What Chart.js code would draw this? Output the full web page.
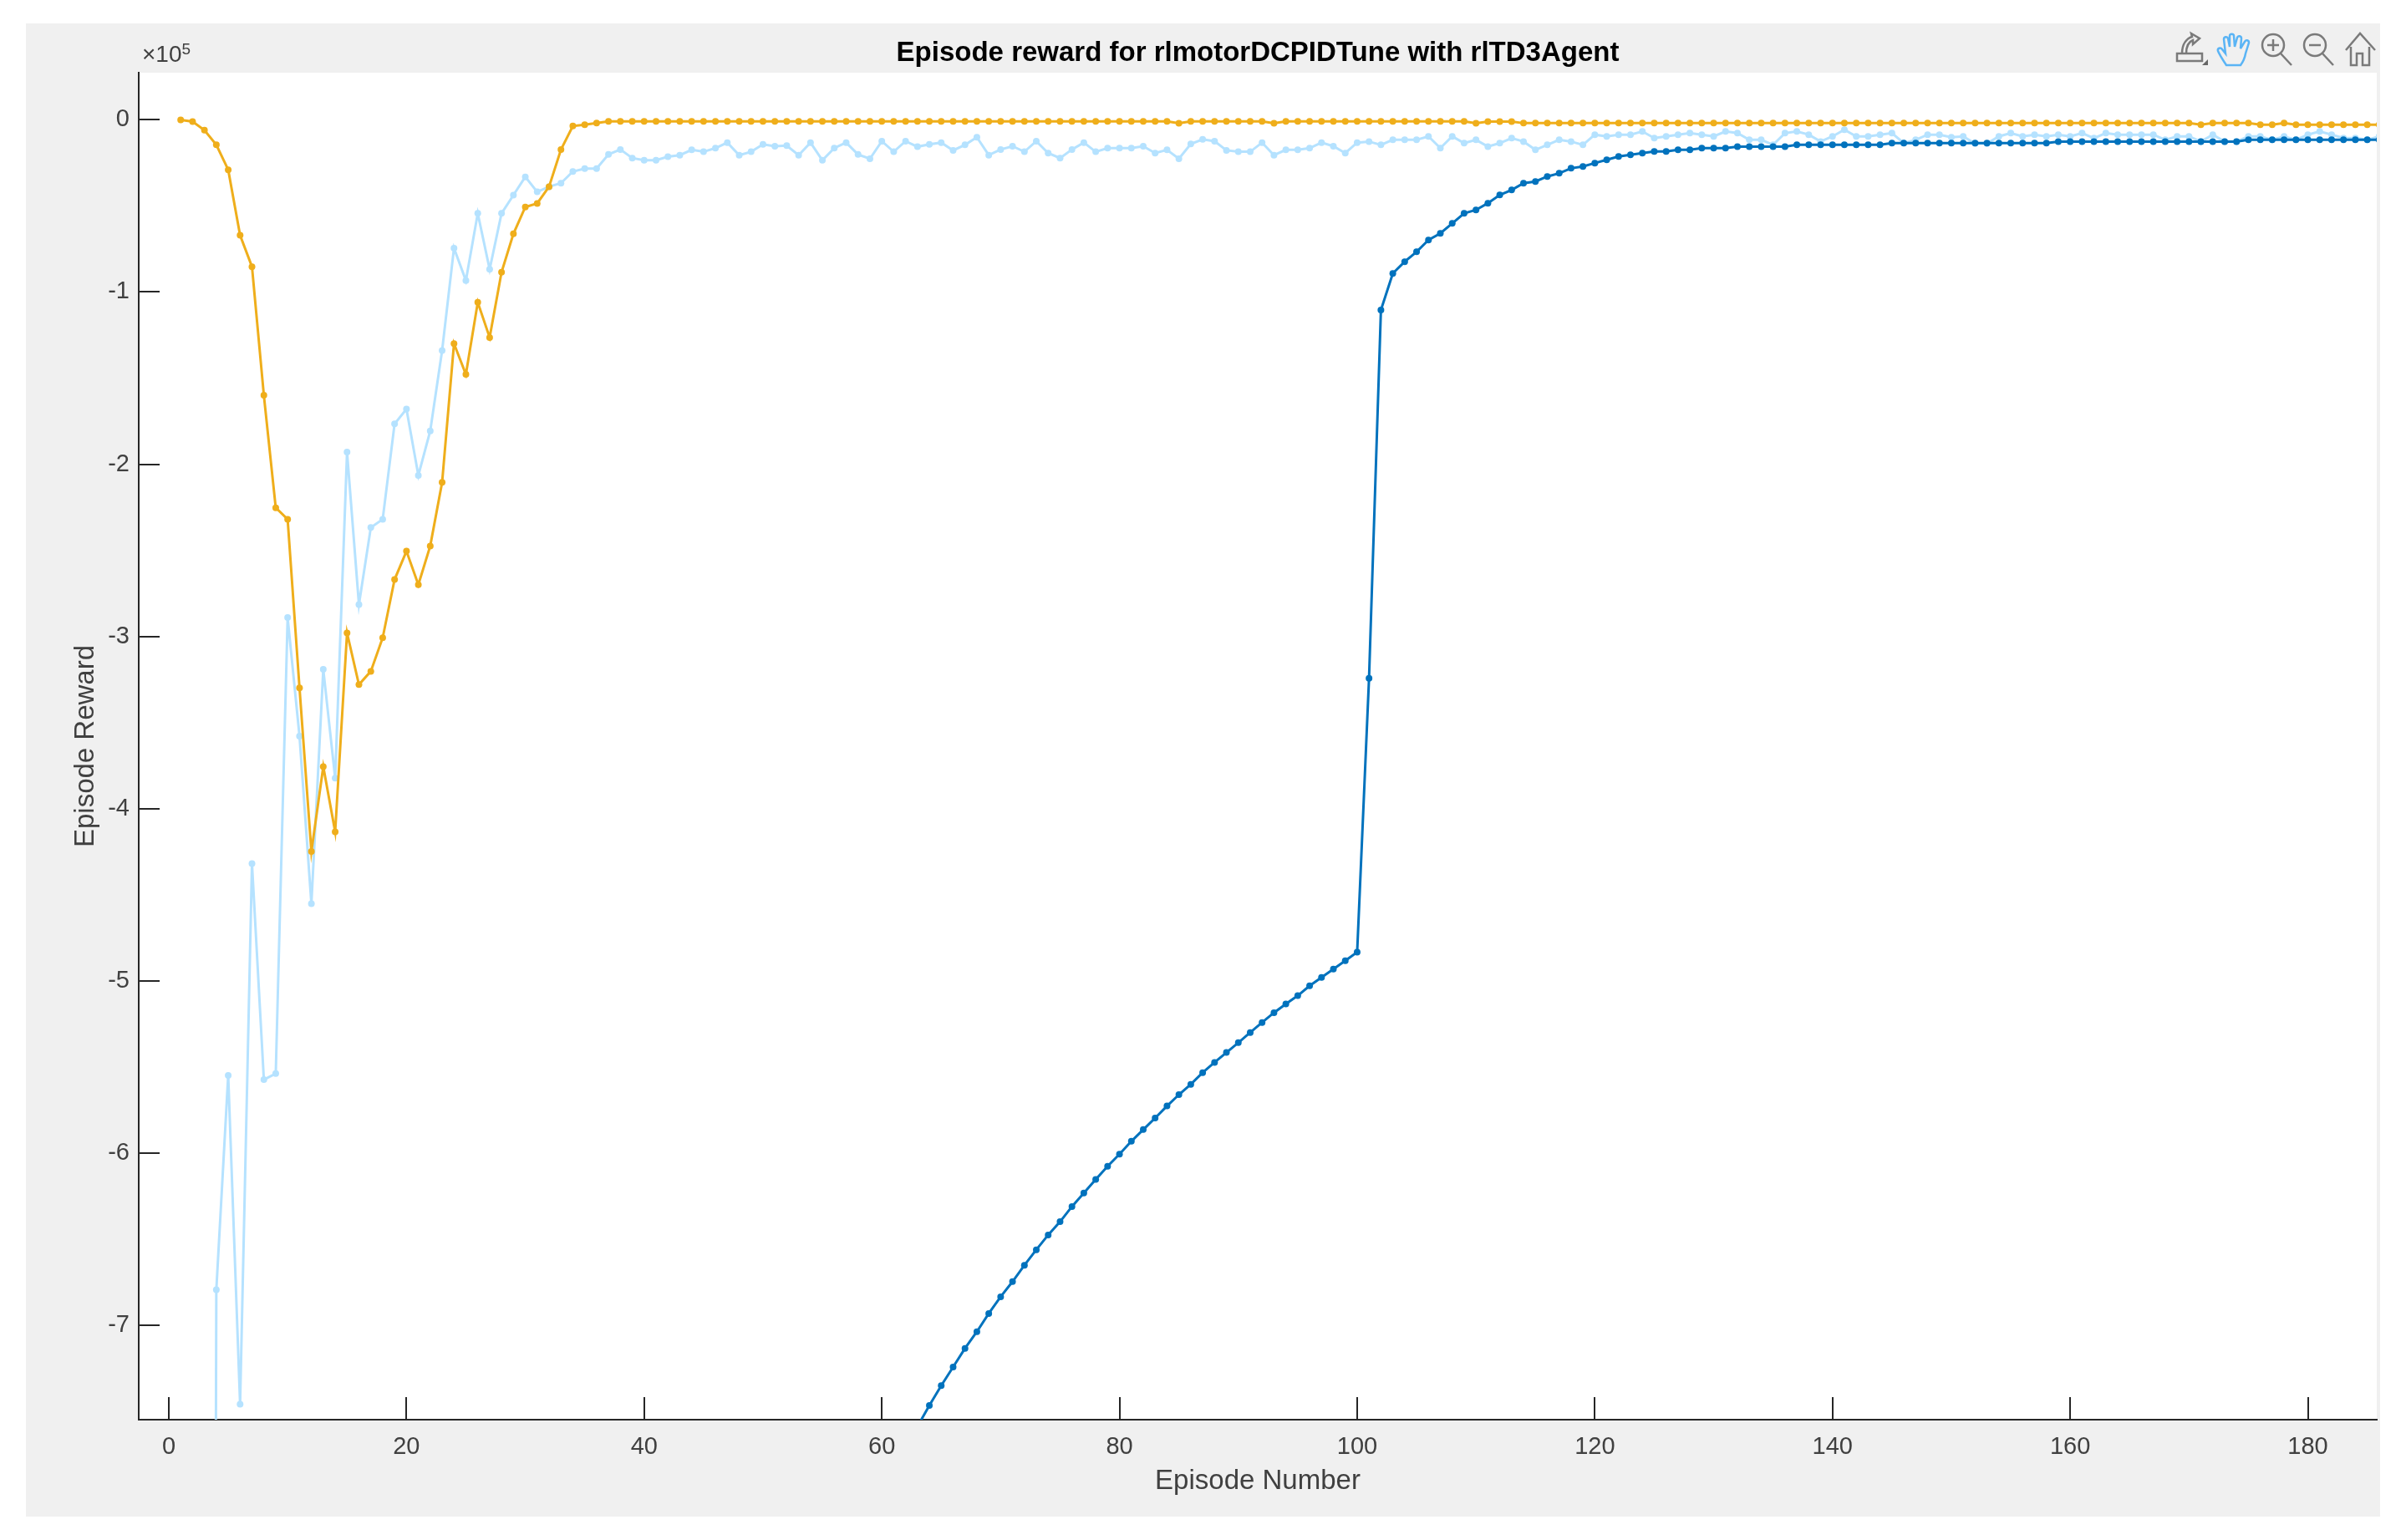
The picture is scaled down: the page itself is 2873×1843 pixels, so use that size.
<!DOCTYPE html>
<html>
<head>
<meta charset="utf-8">
<title>Episode reward</title>
<script src="https://cdn.jsdelivr.net/npm/chart.js@4/dist/chart.umd.min.js"></script>
<style>
  html, body { margin: 0; padding: 0; background: #fff; }
  body { position: relative; width: 2873px; height: 1843px; overflow: hidden; }
  #chart { position: absolute; left: 31px; top: 28px; background: #f0f0f0; }
  #exponent {
    position: absolute; left: 170px; top: 49px; color: #404040;
    font: 28px "Liberation Sans", Arial, sans-serif; line-height: 32px;
  }
  #exponent sup { font-size: 19px; line-height: 0; vertical-align: 9px; }
  #toolbar { position: absolute; left: 2595px; top: 34px; }
</style>
</head>
<body>
<canvas id="chart" width="2817" height="1787"></canvas>
<div id="exponent">×10<sup>5</sup></div>
<svg id="toolbar" width="253" height="50" viewBox="0 0 253 50" fill="none" stroke="#7a7a7a" stroke-width="2.5">
  <path d="M10 30h30v9H10z M16 30c0-12 6-18 12-20l-1-4 10 6-8 7v-5c-5 2-8 8-8 16"/>
  <path d="M40 44l7-7v7z" fill="#666" stroke="none"/>
  <path d="M69 44C65 38 61 32 59 27c-1-3 3-5 5-2l4 5L66 13c0-3 4-4 5-1l2 10L73 9c0-3 5-3 5 0l1 13L82 11c1-3 5-2 5 1l-1 12L91 16c1-3 5-2 5 1L92 30c-1 6-3 10-6 14z" stroke="#5ab4f5"/>
  <circle cx="125" cy="20" r="13"/><path d="M134 30l13 14 M125 13v14 M118 20h14"/>
  <circle cx="175" cy="20" r="13"/><path d="M184 30l13 14 M168 20h14"/>
  <path d="M212 26l17-20 18 20 M218 22v22h7V30h7v14h8V22"/>
</svg>

<script>
"use strict";

// rewards are in units of 1e5
var xTicks = [0, 20, 40, 60, 80, 100, 120, 140, 160, 180];
var yTicks = [0, -1, -2, -3, -4, -5, -6, -7];
var titleText = "Episode reward for rlmotorDCPIDTune with rlTD3Agent";
var xAxisLabel = "Episode Number";
var yAxisLabel = "Episode Reward";

// episode reward, light blue. Starts at episode 3, which is far below the plot
var rewardStart = 3;
var rewardValues = [
  -30,
  -6.795, -5.55, -7.46, -4.32, -5.575, -5.54, -2.891,
  -3.58, -4.553, -3.192, -3.824, -1.93, -2.815, -2.368, -2.32, -1.766, -1.68,
  -2.065, -1.807, -1.34, -0.745, -0.933, -0.543, -0.868, -0.543, -0.437, -0.331,
  -0.418, -0.388, -0.368, -0.3, -0.283, -0.283, -0.201, -0.172, -0.222, -0.234,
  -0.234, -0.214, -0.205, -0.174, -0.185, -0.164, -0.132, -0.205, -0.185, -0.142,
  -0.153, -0.15, -0.205, -0.132, -0.235, -0.164, -0.132, -0.201, -0.226, -0.124,
  -0.185, -0.124, -0.156, -0.142, -0.132, -0.177, -0.145, -0.101, -0.205, -0.172,
  -0.153, -0.185, -0.124, -0.193, -0.222, -0.172, -0.132, -0.185, -0.164, -0.164,
  -0.164, -0.153, -0.193, -0.174, -0.226, -0.14, -0.113, -0.124, -0.177, -0.185,
  -0.185, -0.132, -0.205, -0.174, -0.174, -0.164, -0.132, -0.153, -0.193, -0.132,
  -0.126, -0.145, -0.116, -0.116, -0.116, -0.096, -0.164, -0.096, -0.135, -0.116,
  -0.155, -0.135, -0.106, -0.126, -0.174, -0.145, -0.116, -0.126, -0.145, -0.086,
  -0.096, -0.086, -0.086, -0.067, -0.106, -0.096, -0.086, -0.077, -0.086, -0.096,
  -0.067, -0.077, -0.116, -0.116, -0.145, -0.077, -0.067, -0.086, -0.126, -0.096,
  -0.057, -0.096, -0.096, -0.086, -0.077, -0.135, -0.116, -0.086, -0.086, -0.101,
  -0.096, -0.137, -0.137, -0.096, -0.077, -0.096, -0.086, -0.096, -0.086, -0.096,
  -0.077, -0.106, -0.077, -0.086, -0.086, -0.086, -0.086, -0.116, -0.096, -0.096,
  -0.126, -0.086, -0.126, -0.126, -0.096, -0.096, -0.116, -0.096, -0.116, -0.086,
  -0.067, -0.086, -0.106, -0.106, -0.116, -0.096
];

// average reward, dark blue. Earlier episodes are below the plot
var averageStart = 63;
var averageValues = [
  -7.59, -7.467, -7.352, -7.244, -7.136, -7.039, -6.933, -6.836,
  -6.748, -6.653, -6.563, -6.477, -6.4, -6.312, -6.234, -6.155, -6.078, -6.008,
  -5.933, -5.865, -5.798, -5.728, -5.662, -5.602, -5.534, -5.475, -5.417, -5.36,
  -5.301, -5.243, -5.186, -5.135, -5.087, -5.03, -4.981, -4.933, -4.884, -4.834,
  -3.244, -1.104, -0.892, -0.824, -0.766, -0.698, -0.659, -0.601, -0.543, -0.523,
  -0.484, -0.436, -0.407, -0.368, -0.358, -0.329, -0.31, -0.281, -0.271, -0.251,
  -0.232, -0.213, -0.203, -0.193, -0.183, -0.183, -0.174, -0.174, -0.164, -0.164,
  -0.164, -0.155, -0.155, -0.155, -0.155, -0.155, -0.145, -0.145, -0.145, -0.145,
  -0.145, -0.145, -0.145, -0.145, -0.135, -0.135, -0.135, -0.135, -0.135, -0.135,
  -0.135, -0.135, -0.135, -0.135, -0.135, -0.135, -0.135, -0.135, -0.126, -0.126,
  -0.126, -0.126, -0.126, -0.126, -0.126, -0.126, -0.126, -0.126, -0.126, -0.126,
  -0.126, -0.126, -0.126, -0.126, -0.116, -0.116, -0.116, -0.116, -0.116, -0.116,
  -0.116, -0.116, -0.116, -0.116, -0.116, -0.116
];

// episode Q0, orange
var q0Start = 1;
var q0Values = [
  0, -0.01, -0.06, -0.145, -0.29, -0.67, -0.853, -1.6, -2.253, -2.32,
  -3.3, -4.25, -3.757, -4.136, -2.98, -3.28, -3.203, -3.008, -2.67, -2.505,
  -2.7, -2.475, -2.106, -1.3, -1.478, -1.06, -1.264, -0.885, -0.662, -0.506,
  -0.485, -0.388, -0.173, -0.036, -0.028, -0.018, -0.009, -0.009, -0.009, -0.009,
  -0.009, -0.009, -0.009, -0.009, -0.009, -0.009, -0.009, -0.009, -0.009, -0.009,
  -0.009, -0.009, -0.009, -0.009, -0.009, -0.009, -0.009, -0.009, -0.009, -0.009,
  -0.009, -0.009, -0.009, -0.009, -0.009, -0.009, -0.009, -0.009, -0.009, -0.009,
  -0.009, -0.009, -0.009, -0.009, -0.009, -0.009, -0.009, -0.009, -0.009, -0.009,
  -0.009, -0.009, -0.009, -0.009, -0.02, -0.009, -0.009, -0.009, -0.009, -0.009,
  -0.009, -0.009, -0.02, -0.009, -0.009, -0.009, -0.009, -0.009, -0.009, -0.009,
  -0.009, -0.009, -0.009, -0.009, -0.009, -0.009, -0.009, -0.009, -0.009, -0.02,
  -0.01, -0.01, -0.01, -0.019, -0.019, -0.019, -0.019, -0.019, -0.019, -0.019,
  -0.019, -0.019, -0.019, -0.019, -0.019, -0.019, -0.019, -0.019, -0.019, -0.019,
  -0.019, -0.019, -0.019, -0.019, -0.019, -0.019, -0.019, -0.019, -0.019, -0.019,
  -0.019, -0.019, -0.019, -0.019, -0.019, -0.019, -0.019, -0.019, -0.019, -0.019,
  -0.019, -0.019, -0.019, -0.019, -0.019, -0.019, -0.019, -0.019, -0.019, -0.019,
  -0.019, -0.019, -0.019, -0.019, -0.019, -0.019, -0.019, -0.019, -0.019, -0.019,
  -0.028, -0.019, -0.019, -0.019, -0.019, -0.028, -0.028, -0.019, -0.028, -0.028,
  -0.028, -0.028, -0.028, -0.028, -0.028, -0.028
];

var textColor = "#404040";
var axisColor = "#262626";
var fontFamily = '"Liberation Sans", Arial, sans-serif';

function toPoints(start, values) {
  return values.map(function (v, i) {
    return { x: start + i, y: v };
  });
}

function seriesOptions(label, start, values, color) {
  return {
    label: label,
    data: toPoints(start, values),
    borderColor: color,
    backgroundColor: color,
    borderWidth: 3,
    pointRadius: 4,
    pointBorderWidth: 0,
    tension: 0,
    clip: 0,
  };
}

// white plot area on the grey figure
var plotBackground = {
  id: "plotBackground",
  beforeDraw: function (chart) {
    var a = chart.chartArea;
    chart.ctx.save();
    chart.ctx.fillStyle = "#ffffff";
    chart.ctx.fillRect(a.left, a.top, a.right - a.left, a.bottom - a.top);
    chart.ctx.restore();
  },
};

var ctx = document.getElementById("chart").getContext("2d");
new Chart(ctx, {
  type: "line",
  data: {
    datasets: [
      seriesOptions("Episode Q0", q0Start, q0Values, "#efae1b"),
      seriesOptions("Average Reward", averageStart, averageValues, "#0072bd"),
      seriesOptions("Episode Reward", rewardStart, rewardValues, "#b5e2ff"),
    ],
  },
  options: {
    responsive: false,
    animation: false,
    layout: { padding: 0 },
    plugins: {
      legend: { display: false },
      tooltip: { enabled: false },
      title: {
        display: true,
        text: titleText,
        fullSize: false,
        color: "#000000",
        font: { family: fontFamily, size: 33, weight: "bold", lineHeight: 1.2 },
        padding: { top: 16, bottom: 3.4 },
      },
    },
    scales: {
      x: {
        type: "linear",
        min: -2.53,
        max: 185.8,
        afterBuildTicks: function (scale) {
          scale.ticks = xTicks.map(function (v) { return { value: v }; });
        },
        afterFit: function (scale) { scale.height = 116; },
        border: { color: axisColor, width: 2 },
        grid: { drawOnChartArea: false, tickLength: -27, color: axisColor, lineWidth: 2 },
        ticks: {
          padding: 43,
          maxRotation: 0,
          color: textColor,
          font: { family: fontFamily, size: 29 },
        },
        title: {
          display: true,
          text: xAxisLabel,
          color: textColor,
          font: { family: fontFamily, size: 33 },
          padding: { top: 0, bottom: 22 },
        },
      },
      y: {
        type: "linear",
        min: -7.55,
        max: 0.274,
        afterBuildTicks: function (scale) {
          scale.ticks = yTicks.map(function (v) { return { value: v }; });
        },
        afterFit: function (scale) { scale.width = 135; },
        border: { color: axisColor, width: 2 },
        grid: { drawOnChartArea: false, tickLength: -25, color: axisColor, lineWidth: 2 },
        ticks: {
          padding: 36,
          color: textColor,
          font: { family: fontFamily, size: 29 },
        },
        title: {
          display: true,
          text: yAxisLabel,
          color: textColor,
          font: { family: fontFamily, size: 33 },
          padding: { top: 52, bottom: 0 },
        },
      },
    },
  },
  plugins: [plotBackground],
});
</script>
</body>
</html>
